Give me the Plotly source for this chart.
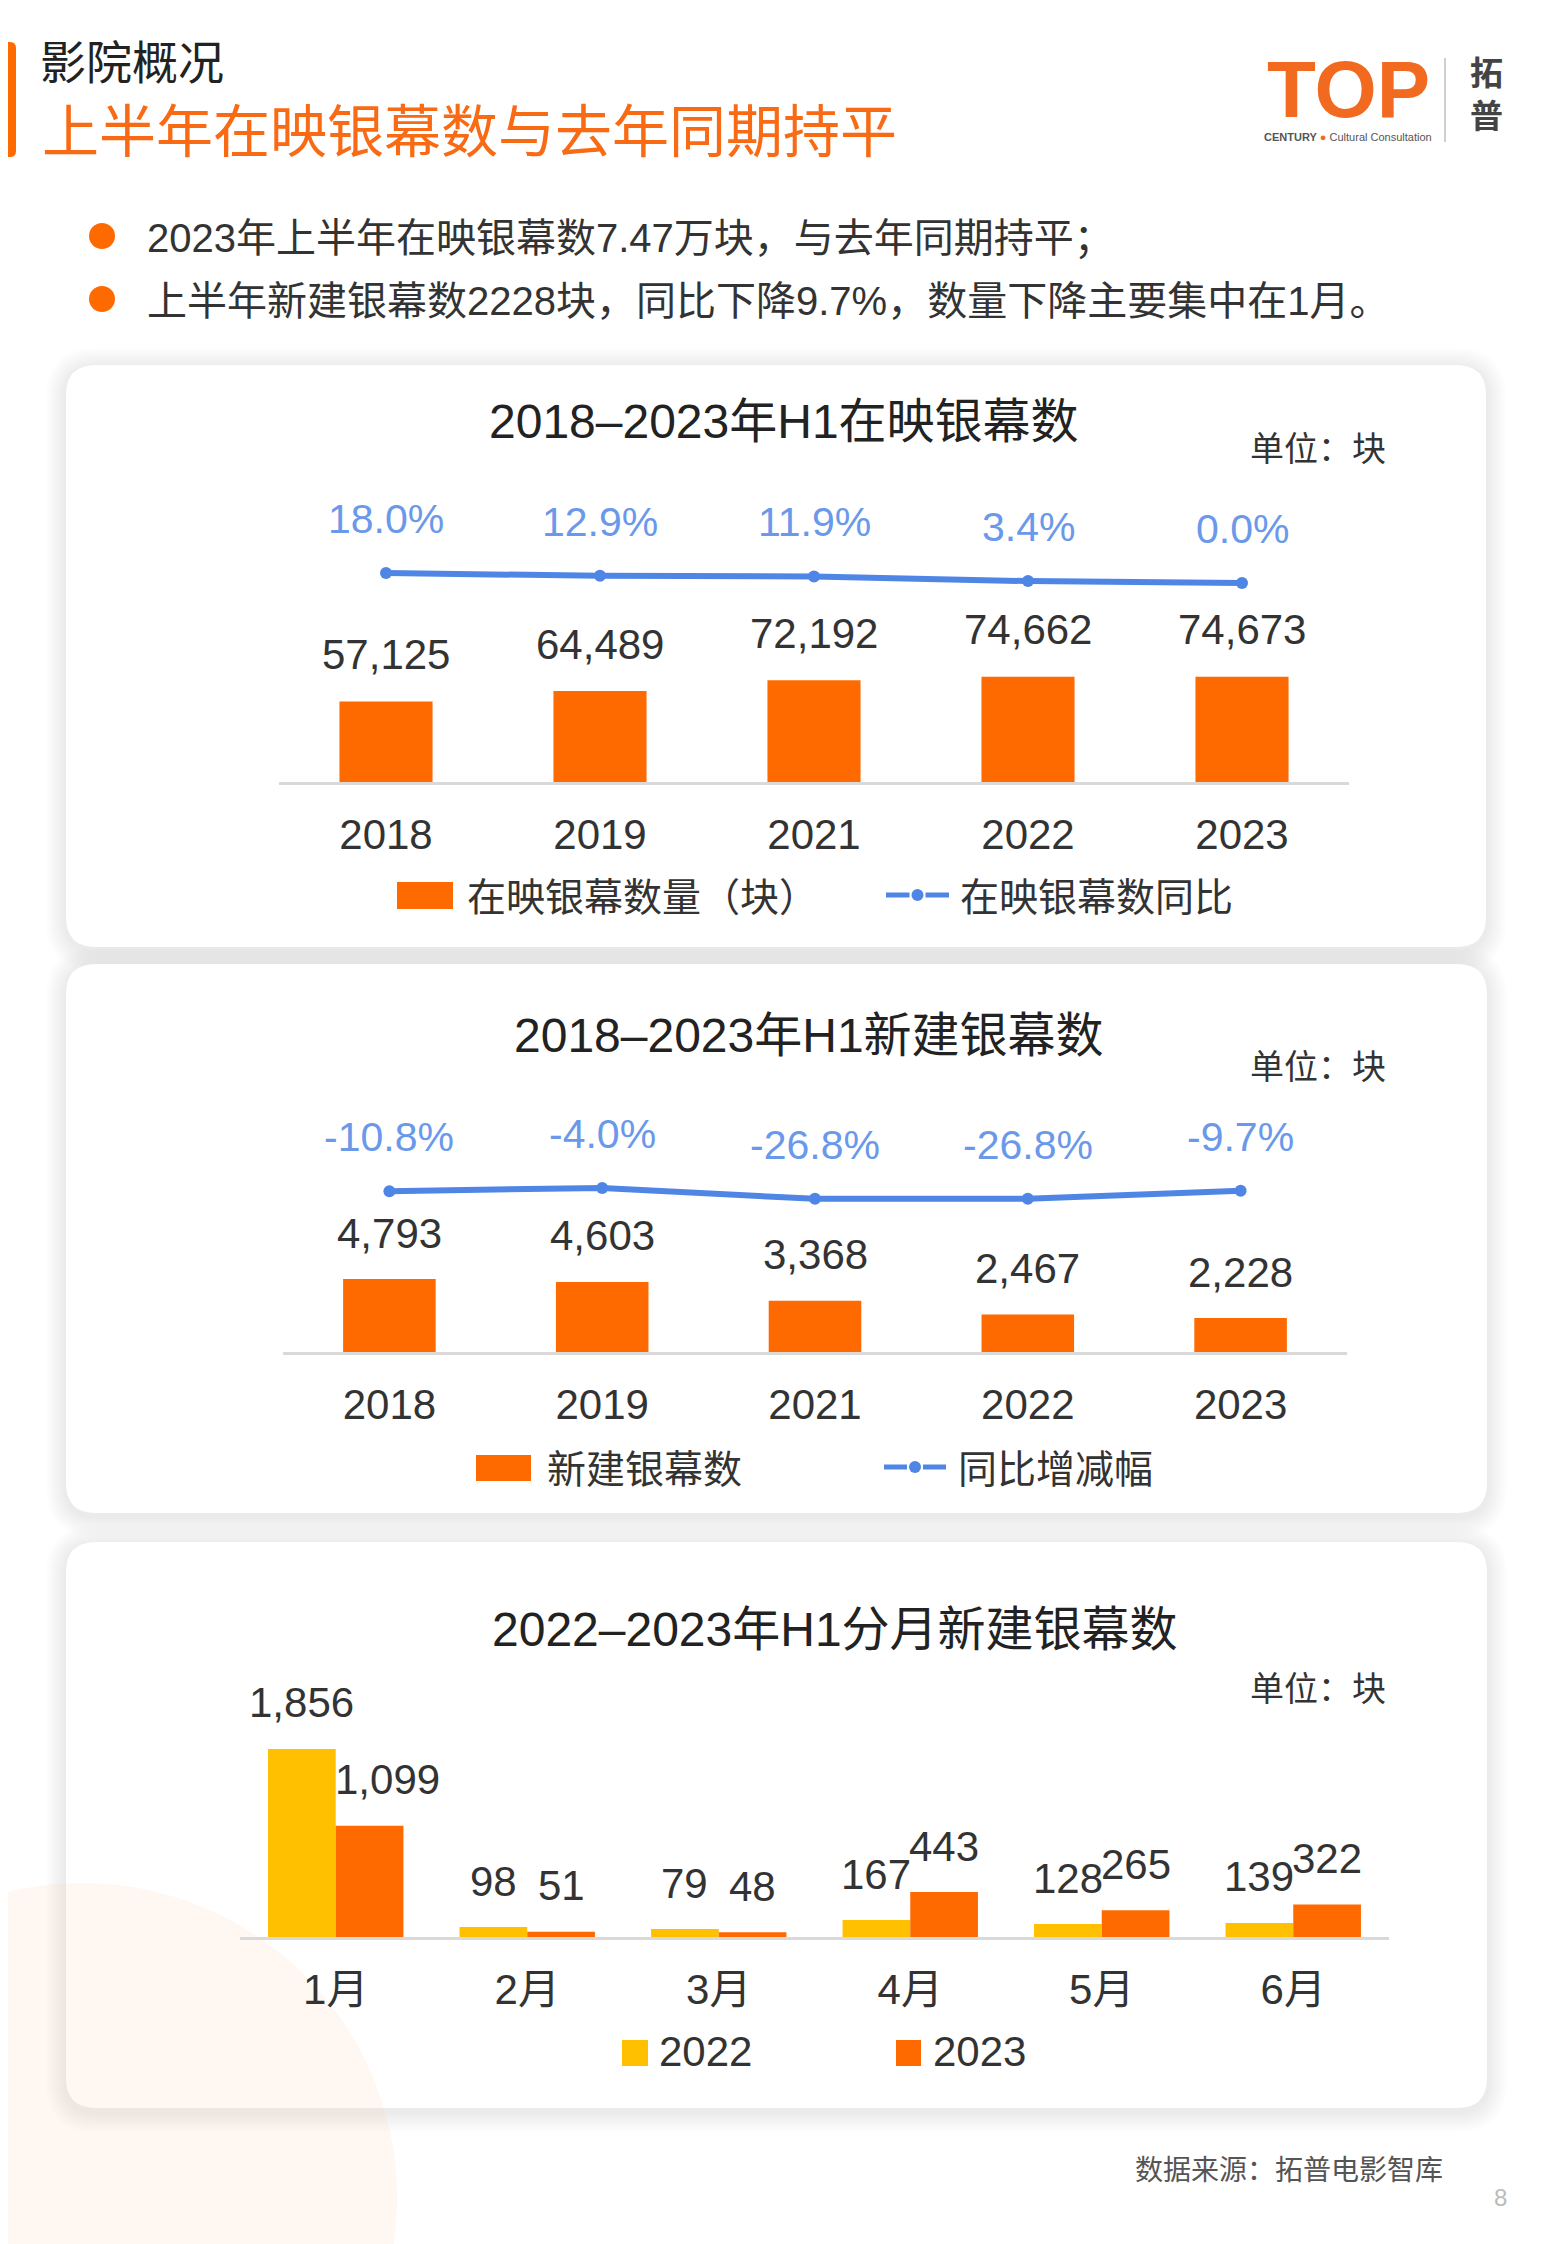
import plotly.graph_objects as go

W, H = 1554, 2244
OFF = 8   # the page body adds an 8px margin; compensate so page pixels map 1:1
DY = 2    # small vertical text correction (px)


def X(x):
    return (x - OFF) / W


def Y(y):
    return 1 - (y - OFF) / H


# ---------------- data ----------------
years = ["2018", "2019", "2021", "2022", "2023"]
screens_total = [57125, 64489, 72192, 74662, 74673]
screens_total_yoy = [18.0, 12.9, 11.9, 3.4, 0.0]
new_screens = [4793, 4603, 3368, 2467, 2228]
new_screens_yoy = [-10.8, -4.0, -26.8, -26.8, -9.7]
months = ["1月", "2月", "3月", "4月", "5月", "6月"]
monthly_2022 = [1856, 98, 79, 167, 128, 139]
monthly_2023 = [1099, 51, 48, 443, 265, 322]

# ---------------- style ----------------
ORANGE = "#FF6A00"
YELLOW = "#FFC000"
BLUE = "#4F86E6"
BLUE_LBL = "#6A98EA"
DARK = "#333333"
FONT = "Liberation Sans, Noto Sans CJK SC, sans-serif"
CJK = "Noto Sans CJK SC, Liberation Sans, sans-serif"

fig = go.Figure()

# chart 1
fig.add_trace(go.Bar(x=years, y=screens_total, marker=dict(color=ORANGE, line=dict(width=0)),
                     xaxis="x", yaxis="y", showlegend=False))
fig.add_trace(go.Scatter(x=years, y=screens_total_yoy, mode="lines+markers",
                         line=dict(color=BLUE, width=6), marker=dict(color=BLUE, size=12),
                         xaxis="x", yaxis="y2", showlegend=False))
# chart 2
fig.add_trace(go.Bar(x=years, y=new_screens, marker=dict(color=ORANGE, line=dict(width=0)),
                     xaxis="x2", yaxis="y3", showlegend=False))
fig.add_trace(go.Scatter(x=years, y=new_screens_yoy, mode="lines+markers",
                         line=dict(color=BLUE, width=6), marker=dict(color=BLUE, size=12),
                         xaxis="x2", yaxis="y4", showlegend=False))
# chart 3
grp_gap3 = 0.293
half3 = (1 - grp_gap3) / 2
fig.add_trace(go.Bar(x=months, y=monthly_2022, name="2022", marker=dict(color=YELLOW, line=dict(width=0)),
                     width=half3, offset=-half3, xaxis="x3", yaxis="y5", showlegend=False))
fig.add_trace(go.Bar(x=months, y=monthly_2023, name="2023", marker=dict(color=ORANGE, line=dict(width=0)),
                     width=half3, offset=0, xaxis="x3", yaxis="y5", showlegend=False))

# ---------------- geometry ----------------
c1 = dict(x0=279, x1=1349, base=782, top=482, scale=0.00141, lzero=583, lpx=0.555)
c2 = dict(x0=283, x1=1347, base=1352, top=1052, scale=0.01523, lzero=1186, lpx=0.48)
c3 = dict(x0=240, x1=1389, base=1937, top=1677, scale=0.1013)


def yr(c):
    return [0, (c["base"] - c["top"]) / c["scale"]]


def lr(c):
    lo = -(c["base"] - c["lzero"]) / c["lpx"]
    return [lo, lo + (c["base"] - c["top"]) / c["lpx"]]


def xax(c, anchor, n):
    return dict(domain=[X(c["x0"]), X(c["x1"])], anchor=anchor, type="category",
                range=[-0.5, n - 0.5], autorange=False,
                showline=True, linecolor="#D9D9D9", linewidth=3, showgrid=False,
                zeroline=False, ticks="", ticklabelstandoff=14,
                tickfont=dict(family=FONT, size=42, color=DARK), fixedrange=True)


def yax(c, anchor, rng, overlay=None):
    d = dict(domain=[Y(c["base"]), Y(c["top"])], anchor=anchor, range=rng, autorange=False,
             visible=False, showgrid=False, zeroline=False, fixedrange=True)
    if overlay:
        d["overlaying"] = overlay
        d.pop("domain")
    return d


fig.update_layout(
    width=W, height=H, margin=dict(l=0, r=0, t=0, b=0),
    paper_bgcolor="white", plot_bgcolor="rgba(0,0,0,0)",
    barmode="group", bargap=0.565, bargroupgap=0,
    xaxis=xax(c1, "y", len(years)), yaxis=yax(c1, "x", yr(c1)), yaxis2=yax(c1, "x", lr(c1), "y"),
    xaxis2=xax(c2, "y3", len(years)), yaxis3=yax(c2, "x2", yr(c2)), yaxis4=yax(c2, "x2", lr(c2), "y3"),
    xaxis3=xax(c3, "y5", len(months)), yaxis5=yax(c3, "x3", yr(c3)),
    showlegend=False,
)
cat_w3 = (c3["x1"] - c3["x0"]) / len(months)
bar_w3 = cat_w3 * half3

# ---------------- shapes ----------------
shapes = []


def rrect(x0, y0, x1, y1, r):
    return (f"M {X(x0 + r)},{Y(y0)} L {X(x1 - r)},{Y(y0)} Q {X(x1)},{Y(y0)} {X(x1)},{Y(y0 + r)} "
            f"L {X(x1)},{Y(y1 - r)} Q {X(x1)},{Y(y1)} {X(x1 - r)},{Y(y1)} "
            f"L {X(x0 + r)},{Y(y1)} Q {X(x0)},{Y(y1)} {X(x0)},{Y(y1 - r)} "
            f"L {X(x0)},{Y(y0 + r)} Q {X(x0)},{Y(y0)} {X(x0 + r)},{Y(y0)} Z")


cards = [(66, 365, 1486, 947), (66, 964, 1487, 1513), (66, 1542, 1487, 2108)]
for (x0, y0, x1, y1) in cards:
    for k in range(10, 0, -1):
        e = 2 * k
        shapes.append(dict(type="path", xref="paper", yref="paper", layer="below",
                           path=rrect(x0 - e, y0 - e + 3, x1 + e, y1 + e + 4, 30 + e),
                           fillcolor="rgba(0,0,0,0.009)", line=dict(width=0)))
    shapes.append(dict(type="path", xref="paper", yref="paper", layer="below",
                       path=rrect(x0, y0, x1, y1, 30), fillcolor="white",
                       line=dict(width=0)))

# decorative circle bottom-left
shapes.append(dict(type="circle", xref="paper", yref="paper", layer="below",
                   x0=X(82 - 315), x1=X(82 + 315), y0=Y(2198 + 315), y1=Y(2198 - 315),
                   fillcolor="rgba(245,200,170,0.15)", line=dict(width=0)))

# left accent bar
shapes.append(dict(type="path", xref="paper", yref="paper", layer="above",
                   path=rrect(-8, 42, 16, 157, 6), fillcolor=ORANGE, line=dict(width=0)))
# bullets
for cy in (236, 299):
    shapes.append(dict(type="circle", xref="paper", yref="paper",
                       x0=X(89), x1=X(115), y0=Y(cy + 13), y1=Y(cy - 13),
                       fillcolor=ORANGE, line=dict(width=0)))
# logo divider
shapes.append(dict(type="line", xref="paper", yref="paper", x0=X(1445), x1=X(1445),
                   y0=Y(58), y1=Y(142), line=dict(color="#CFCFCF", width=2)))


def rect(x0, y0, x1, y1, color):
    shapes.append(dict(type="rect", xref="paper", yref="paper", x0=X(x0), x1=X(x1),
                       y0=Y(y1), y1=Y(y0), fillcolor=color, line=dict(width=0)))


def line_sym(x0, x1, cy):
    mid = (x0 + x1) / 2
    for a, b in ((x0, mid - 8), (mid + 8, x1)):
        shapes.append(dict(type="line", xref="paper", yref="paper", x0=X(a), x1=X(b),
                           y0=Y(cy), y1=Y(cy), line=dict(color=BLUE, width=5)))
    shapes.append(dict(type="circle", xref="paper", yref="paper", x0=X(mid - 6), x1=X(mid + 6),
                       y0=Y(cy + 6), y1=Y(cy - 6), fillcolor=BLUE, line=dict(width=0)))


rect(397, 882, 453, 909, ORANGE)
line_sym(886, 949, 895)
rect(476, 1455, 531, 1481, ORANGE)
line_sym(884, 946, 1467)
rect(622, 2040, 648, 2066, YELLOW)
rect(896, 2040, 921, 2066, ORANGE)

# ---------------- annotations ----------------
ann = []


def txt(x, y, s, size, color=DARK, xanchor="left", family=FONT, height=None):
    a = dict(text=s, x=X(x), y=Y(y - DY), xref="paper", yref="paper", showarrow=False,
             xanchor=xanchor, yanchor="middle",
             font=dict(family=family, size=size, color=color))
    if height:
        a["height"] = height
    ann.append(a)


# header
txt(38, 61, "影院概况", 46, color="#222222", family=CJK, height=50)
txt(40, 129, "上半年在映银幕数与去年同期持平", 57, color="#F96A14", family=CJK, height=62)
txt(145, 240, "2023年上半年在映银幕数7.47万块，与去年同期持平；", 40, color="#333333")
txt(145, 303, "上半年新建银幕数2228块，同比下降9.7%，数量下降主要集中在1月。", 40, color="#333333")

# logo
txt(1348, 92, "<b>TOP</b>", 80, color="#F26A1F", xanchor="center", family="Liberation Sans, sans-serif")
txt(1348, 139, "<b>CENTURY</b> <span style='color:#F26A1F'>●</span> Cultural Consultation", 11,
    color="#555555", xanchor="center", family="Liberation Sans, sans-serif")
txt(1486, 95, "<b>拓</b><br><b>普</b>", 33, color="#444444", xanchor="center", family=CJK)

# chart titles & units
txt(784, 423, "2018–2023年H1在映银幕数", 48, color="#222222", xanchor="center")
txt(1388, 449, "单位：块", 34, xanchor="right", family=CJK)
txt(809, 1037, "2018–2023年H1新建银幕数", 48, color="#222222", xanchor="center")
txt(1388, 1066, "单位：块", 34, xanchor="right", family=CJK)
txt(835, 1631, "2022–2023年H1分月新建银幕数", 48, color="#222222", xanchor="center")
txt(1388, 1688, "单位：块", 34, xanchor="right", family=CJK)

# legends text
txt(465, 896, "在映银幕数量（块）", 39, family=CJK)
txt(958, 896, "在映银幕数同比", 39, family=CJK)
txt(545, 1468, "新建银幕数", 39, family=CJK)
txt(956, 1468, "同比增减幅", 39, family=CJK)
txt(657, 2053, "2022", 42)
txt(931, 2053, "2023", 42)

# footer
txt(1445, 2170, "数据来源：拓普电影智库", 28, color="#555555", xanchor="right", family=CJK)
txt(1500, 2199, "8", 24, color="#BBBBBB", xanchor="center")


def data_lbl(xr, yref, i, y, s, shift, size, color, xshift=0):
    # category axes: numeric x is the category index
    ann.append(dict(text=s, x=i, y=y, xref=xr, yref=yref, showarrow=False, yanchor="middle",
                    xanchor="center", yshift=shift + DY, xshift=xshift,
                    font=dict(family=FONT, size=size, color=color)))


for i, (v, p) in enumerate(zip(screens_total, screens_total_yoy)):
    data_lbl("x", "y", i, v, f"{v:,}", 45, 42, DARK)
    data_lbl("x", "y2", i, p, f"{p:.1f}%", 52, 41, BLUE_LBL)
for i, (v, p) in enumerate(zip(new_screens, new_screens_yoy)):
    data_lbl("x2", "y3", i, v, f"{v:,}", 44, 42, DARK)
    data_lbl("x2", "y4", i, p, f"{p:.1f}%", 52, 41, BLUE_LBL)
for i, (a, b) in enumerate(zip(monthly_2022, monthly_2023)):
    data_lbl("x3", "y5", i, a, f"{a:,}", 44, 42, DARK, xshift=-bar_w3 / 2)
    # nudge the 2023 label right when the taller 2022 bar would run into it
    nudge = 18 if (a - b) * c3["scale"] > 44 + 21 else 0
    data_lbl("x3", "y5", i, b, f"{b:,}", 44, 42, DARK, xshift=bar_w3 / 2 + nudge)

fig.update_layout(shapes=shapes, annotations=ann)
fig.write_html("out.html")
